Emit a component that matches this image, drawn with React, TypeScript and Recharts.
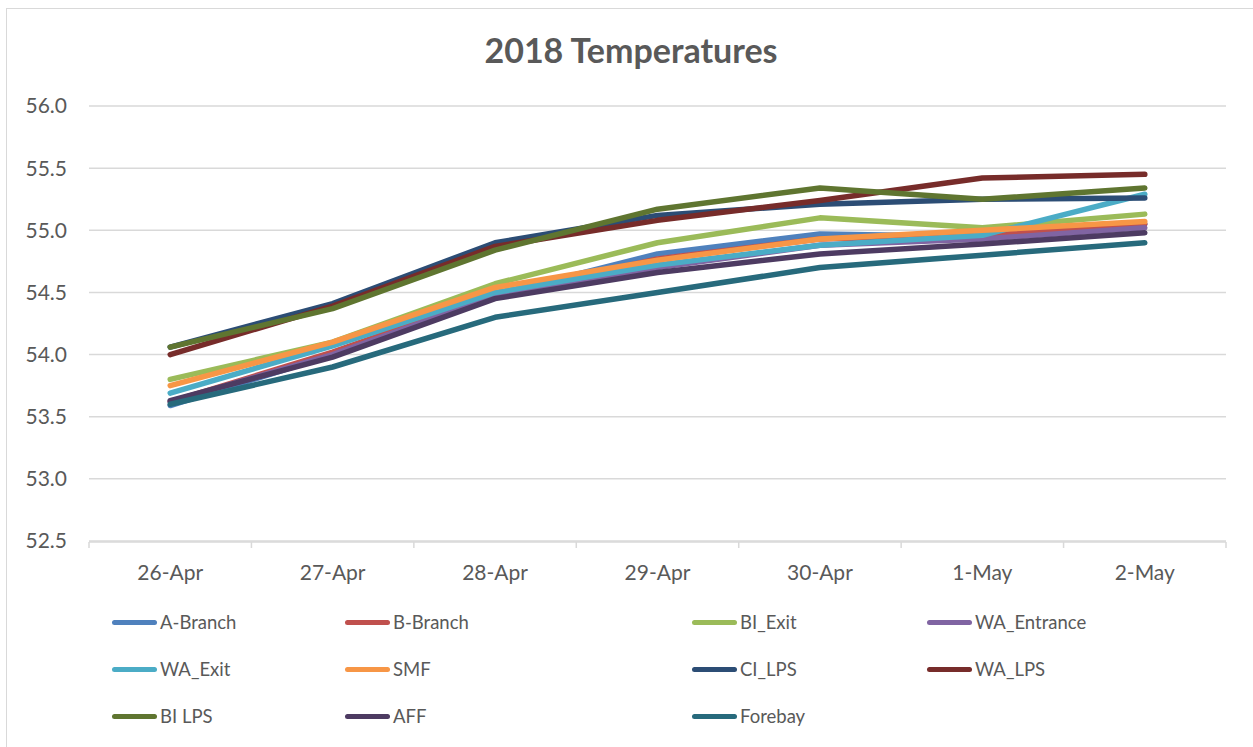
import React from "react";
import { LineChart, Line, XAxis, YAxis, CartesianGrid } from "recharts";

const CATEGORIES = ["26-Apr", "27-Apr", "28-Apr", "29-Apr", "30-Apr", "1-May", "2-May"];
const Y_TICKS = [52.5, 53.0, 53.5, 54.0, 54.5, 55.0, 55.5, 56.0];
// category boundaries, in category-index units
const EDGE_TICKS = [-0.5, 0.5, 1.5, 2.5, 3.5, 4.5, 5.5, 6.5];

const A_BRANCH = [53.59, 54.0, 54.48, 54.81, 54.97, 54.95, 55.05];
const B_BRANCH = [53.62, 54.02, 54.48, 54.77, 54.93, 54.96, 55.05];
const BI_EXIT = [53.8, 54.1, 54.57, 54.9, 55.1, 55.02, 55.13];
const WA_ENTRANCE = [53.62, 54.0, 54.47, 54.7, 54.88, 54.93, 55.02];
const WA_EXIT = [53.69, 54.07, 54.5, 54.72, 54.88, 54.96, 55.29];
const SMF = [53.75, 54.1, 54.54, 54.76, 54.93, 55.0, 55.07];
const CI_LPS = [54.06, 54.41, 54.9, 55.12, 55.21, 55.25, 55.26];
const WA_LPS = [54.0, 54.39, 54.87, 55.08, 55.24, 55.42, 55.45];
const BI_LPS = [54.06, 54.37, 54.84, 55.17, 55.34, 55.25, 55.34];
const AFF = [53.63, 53.98, 54.45, 54.66, 54.81, 54.89, 54.98];
const FOREBAY = [53.6, 53.9, 54.3, 54.5, 54.7, 54.8, 54.9];

const SERIES = [
  { name: "A-Branch", values: A_BRANCH, color: "#4F81BD" },
  { name: "B-Branch", values: B_BRANCH, color: "#C0504D" },
  { name: "BI_Exit", values: BI_EXIT, color: "#9BBB59" },
  { name: "WA_Entrance", values: WA_ENTRANCE, color: "#8064A2" },
  { name: "WA_Exit", values: WA_EXIT, color: "#4BACC6" },
  { name: "SMF", values: SMF, color: "#F79646" },
  { name: "CI_LPS", values: CI_LPS, color: "#2C4D75" },
  { name: "WA_LPS", values: WA_LPS, color: "#772C2A" },
  { name: "BI LPS", values: BI_LPS, color: "#5F7530" },
  { name: "AFF", values: AFF, color: "#4D3B62" },
  { name: "Forebay", values: FOREBAY, color: "#276A7C" },
];

const data = CATEGORIES.map((date, i) => {
  const row: Record<string, string | number> = { date, idx: i };
  SERIES.forEach((s) => (row[s.name] = s.values[i]));
  return row;
});

const FONT = "Lato, Carlito, 'Open Sans', sans-serif";
const TEXT = "#595959";
const GRID = "#d9d9d9";

// legend column starts and row centres, as Excel laid them out
const LEGEND_COLS = [112, 345, 692, 927];
const LEGEND_ROWS = [622, 669, 716];

function ChartLegend() {
  return (
    <>
      {SERIES.map((s, i) => {
        const col = i % 4;
        const row = Math.floor(i / 4);
        return (
          <div
            key={s.name}
            style={{
              position: "absolute",
              left: LEGEND_COLS[col],
              top: LEGEND_ROWS[row] - 12,
              height: 24,
              display: "flex",
              alignItems: "center",
              fontSize: 18.5,
              color: TEXT,
              whiteSpace: "nowrap",
            }}
          >
            <span
              style={{
                display: "inline-block",
                width: 45,
                height: 5,
                borderRadius: 3,
                background: s.color,
                marginRight: 3,
              }}
            />
            {s.name}
          </div>
        );
      })}
    </>
  );
}

export default function App() {
  return (
    <div
      style={{
        position: "absolute",
        left: 0,
        top: 0,
        width: 1253,
        height: 747,
        overflow: "hidden",
        background: "#fff",
        fontFamily: FONT,
      }}
    >
      <div
        style={{
          position: "absolute",
          left: 6,
          top: 8,
          width: 1260,
          height: 760,
          border: `1px solid ${GRID}`,
        }}
      />
      <div
        style={{
          position: "absolute",
          left: 0,
          top: 30,
          width: 1262,
          textAlign: "center",
          fontSize: 34,
          fontWeight: 700,
          color: TEXT,
          lineHeight: "40px",
        }}
      >
        2018 Temperatures
      </div>
      <div style={{ position: "absolute", left: 0, top: 0 }}>
        <LineChart
          width={1253}
          height={747}
          data={data}
          margin={{ top: 106, right: 27, bottom: 199, left: 0 }}
          style={{ fontFamily: FONT }}
        >
          <CartesianGrid vertical={false} stroke={GRID} strokeWidth={1.5} />
          {/* category labels; tiny height so the boundary-tick axis sits on the plot edge too */}
          <XAxis
            dataKey="date"
            scale="band"
            height={1}
            axisLine={false}
            tickLine={false}
            tickSize={0}
            tickMargin={24}
            tick={{ fill: TEXT, fontSize: 21 }}
          />
          <XAxis
            xAxisId="edges"
            dataKey="idx"
            type="number"
            domain={[-0.5, 6.5]}
            allowDataOverflow
            ticks={EDGE_TICKS}
            interval={0}
            tickFormatter={() => ""}
            height={6}
            tickSize={6}
            axisLine={{ stroke: GRID, strokeWidth: 1.5 }}
            tickLine={{ stroke: GRID, strokeWidth: 1.5 }}
          />
          <YAxis
            domain={[52.5, 56]}
            ticks={Y_TICKS}
            width={89}
            axisLine={false}
            tickLine={false}
            tickSize={0}
            tickMargin={22}
            tick={{ fill: TEXT, fontSize: 21 }}
            tickFormatter={(v: number) => v.toFixed(1)}
          />
          {SERIES.map((s) => (
            <Line
              key={s.name}
              type="linear"
              dataKey={s.name}
              stroke={s.color}
              strokeWidth={5.5}
              strokeLinecap="round"
              strokeLinejoin="round"
              dot={false}
              activeDot={false}
              isAnimationActive={false}
            />
          ))}
        </LineChart>
      </div>
      <ChartLegend />
    </div>
  );
}
